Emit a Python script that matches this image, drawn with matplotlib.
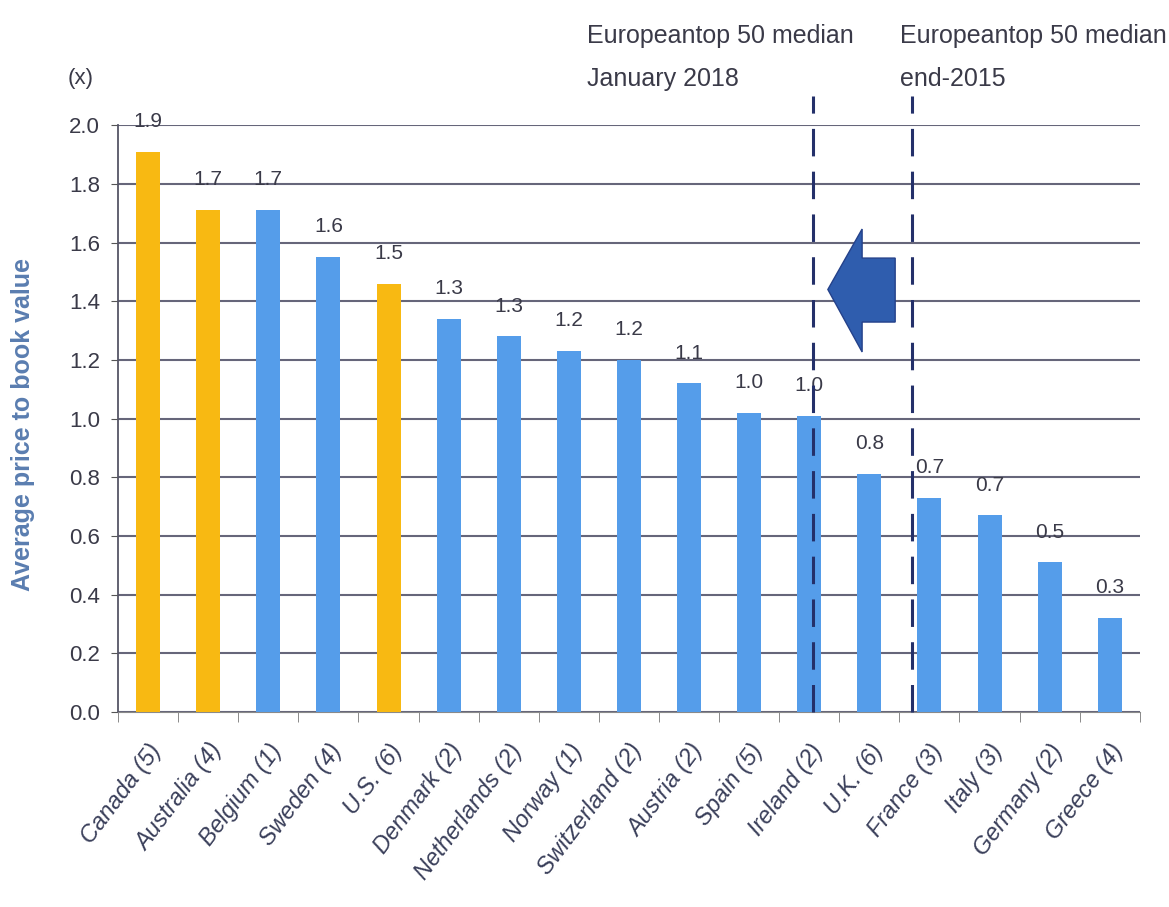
import numpy as np
import matplotlib.pyplot as plt
from matplotlib.patches import Polygon

# ---------------------------
# Data
# ---------------------------
countries = ["Canada (5)", "Australia (4)", "Belgium (1)", "Sweden (4)", "U.S. (6)",
             "Denmark (2)", "Netherlands (2)", "Norway (1)", "Switzerland (2)",
             "Austria (2)", "Spain (5)", "Ireland (2)", "U.K. (6)", "France (3)",
             "Italy (3)", "Germany (2)", "Greece (4)"]
pb_values = [1.91, 1.71, 1.71, 1.55, 1.46, 1.34, 1.28, 1.23, 1.20,
             1.12, 1.02, 1.01, 0.81, 0.73, 0.67, 0.51, 0.32]
value_labels = ["1.9", "1.7", "1.7", "1.6", "1.5", "1.3", "1.3", "1.2", "1.2",
                "1.1", "1.0", "1.0", "0.8", "0.7", "0.7", "0.5", "0.3"]
non_european = ["Canada (5)", "Australia (4)", "U.S. (6)"]

median_jan2018_x = 11.06   # sits on the Ireland bar
median_end2015_x = 12.71   # between U.K. and France

ORANGE = "#F8B912"
BLUE = "#559DEA"
NAVY = "#24306A"
TEXT = "#3a3a48"

plt.rcParams["font.family"] = ["Liberation Sans", "DejaVu Sans"]

fig = plt.figure(figsize=(11.69, 9.07), dpi=100)
ax = fig.add_axes([0.101, 0.215, 0.874, 0.647])

x = np.arange(len(countries))
colors = [ORANGE if c in non_european else BLUE for c in countries]
ax.bar(x, pb_values, width=0.4, color=colors, zorder=3)

for xi, v, lab in zip(x, pb_values, value_labels):
    ax.annotate(lab, (xi, v), xytext=(0, 15), textcoords="offset points",
                ha="center", va="bottom", fontsize=15, color=TEXT,
                annotation_clip=False)

# axes / grid
ax.set_xlim(-0.5, len(countries) - 0.5)
ax.set_ylim(0, 2.0)
ax.set_yticks(np.arange(0, 2.01, 0.2))
ax.set_yticklabels([f"{t:.1f}" for t in np.arange(0, 2.01, 0.2)],
                   fontsize=16, color=TEXT)
ax.yaxis.grid(True, color="#66667a", linewidth=1.5, zorder=1)
ax.set_axisbelow(True)

ax.set_xticks(x)
ax.set_xticklabels(countries, rotation=53, ha="right", rotation_mode="anchor",
                   fontsize=17, style="italic", color="#3a3f5a")
ax.tick_params(axis="x", length=0, pad=20)
ax.set_xticks(np.arange(-0.5, len(countries)), minor=True)
ax.tick_params(axis="x", which="minor", length=7, color="#777777")
ax.tick_params(axis="y", length=5, color="#555555", pad=8)

for side in ("top", "right"):
    ax.spines[side].set_visible(False)
ax.spines["left"].set_color("#555566")
ax.spines["left"].set_linewidth(1.3)
ax.spines["bottom"].set_color("#8a8a8a")

ax.set_ylabel("Average price to book value", fontsize=18, color="#5A7DB0",
              fontweight="bold")
ax.yaxis.set_label_coords(-0.081, 0.49)
ax.text(-0.037, 1.07, "(x)", transform=ax.transAxes, fontsize=16,
        color=TEXT, ha="center")

# median reference lines
for xm in (median_jan2018_x, median_end2015_x):
    ax.plot([xm, xm], [0, 2.1], color=NAVY, linestyle=(0, (9, 5)),
            linewidth=2.2, clip_on=False, zorder=4)

ax.text(median_jan2018_x - 3.75, 2.115, "Europeantop 50 median\nJanuary 2018",
        fontsize=18, color=TEXT, ha="left", va="bottom", linespacing=2.0)
ax.text(median_end2015_x - 0.2, 2.115, "Europeantop 50 median\nend-2015",
        fontsize=18, color=TEXT, ha="left", va="bottom", linespacing=2.0)

# block arrow pointing from end-2015 median to January 2018 median
arrow_pts = [(11.31, 1.44), (11.88, 1.646), (11.88, 1.547), (12.43, 1.547),
             (12.43, 1.329), (11.88, 1.329), (11.88, 1.227)]
ax.add_patch(Polygon(arrow_pts, closed=True, facecolor="#2F5DAE",
                     edgecolor="#24418A", linewidth=1, zorder=5))

fig.savefig("out.png", dpi=100)
